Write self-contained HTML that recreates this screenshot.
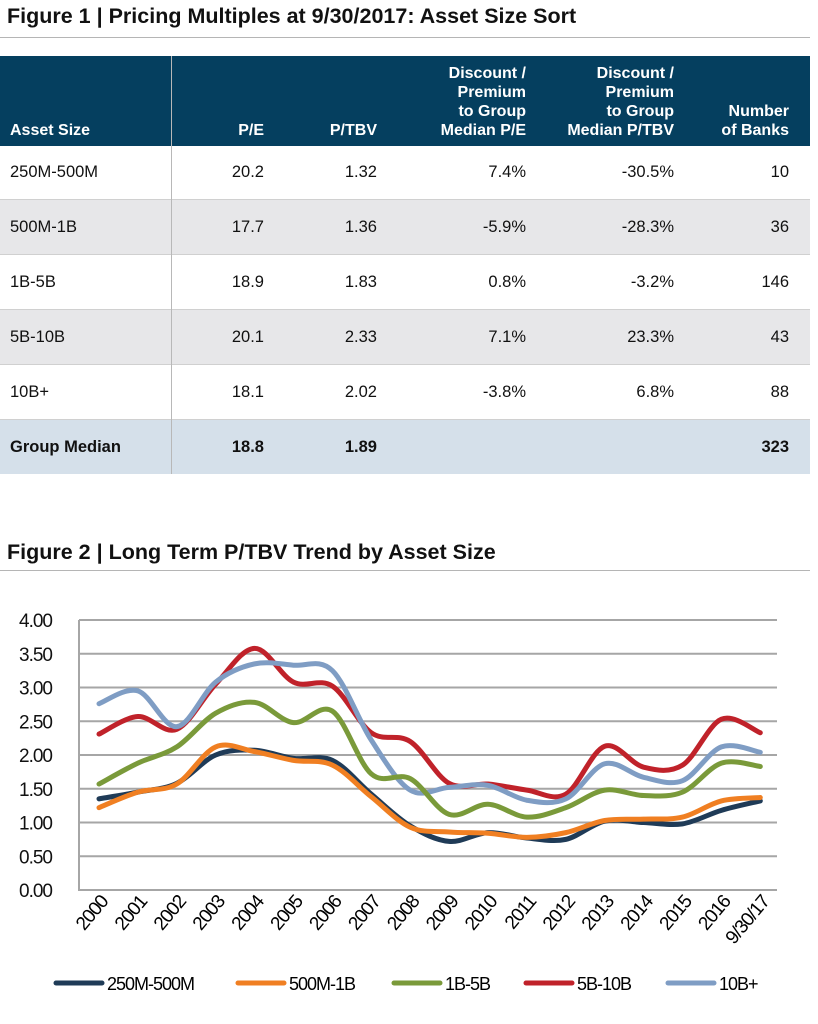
<!DOCTYPE html>
<html><head><meta charset="utf-8">
<style>
body{margin:0;width:818px;height:1024px;background:#fff;font-family:"Liberation Sans",Arial,sans-serif;position:relative;overflow:hidden;color:#111}
.t{position:absolute;left:7px;font-weight:bold;font-size:21.5px}
.hr{position:absolute;left:0;width:810px;height:1px;background:#b5b5b5}
.row{position:absolute;left:0;width:810px;height:55px}
.c{position:absolute;font-size:16.5px;text-align:right}
.h{position:absolute;font-size:16px;font-weight:bold;color:#fff;text-align:right;line-height:19px}
</style></head><body>
<div class="t" style="top:4px">Figure 1 | Pricing Multiples at 9/30/2017: Asset Size Sort</div>
<div class="hr" style="top:37px"></div>
<div class="row" style="top:56px;height:90px;background:#053f5f"></div>
<div class="h" style="left:10px;top:121px;text-align:left">Asset Size</div>
<div class="h" style="right:554px;top:121px">P/E</div>
<div class="h" style="right:441px;top:121px">P/TBV</div>
<div class="h" style="right:292px;top:64px">Discount /<br>Premium<br>to Group<br>Median P/E</div>
<div class="h" style="right:144px;top:64px">Discount /<br>Premium<br>to Group<br>Median P/TBV</div>
<div class="h" style="right:29px;top:102px">Number<br>of Banks</div>
<div class="row" style="top:200px;background:#e7e7e9"></div>
<div class="row" style="top:310px;background:#e7e7e9"></div>
<div class="row" style="top:419px;background:#d5e0ea"></div>
<div style="position:absolute;left:0;width:810px;top:199px;height:1px;background:#d0d0d0"></div>
<div style="position:absolute;left:0;width:810px;top:254px;height:1px;background:#d0d0d0"></div>
<div style="position:absolute;left:0;width:810px;top:309px;height:1px;background:#d0d0d0"></div>
<div style="position:absolute;left:0;width:810px;top:364px;height:1px;background:#d0d0d0"></div>
<div style="position:absolute;left:0;width:810px;top:419px;height:1px;background:#d0d0d0"></div>
<div style="position:absolute;left:171px;top:56px;width:1px;height:418px;background:#b8b8b8"></div>
<div id="tbl"></div>
<div class="t" style="top:540px">Figure 2 | Long Term P/TBV Trend by Asset Size</div>
<div class="hr" style="top:570px"></div>
<svg id="ch" width="818" height="1024" style="position:absolute;left:0;top:0" font-family="Liberation Sans, Arial, sans-serif"></svg>
<script>
var rows=[["250M-500M","20.2","1.32","7.4%","-30.5%","10"],["500M-1B","17.7","1.36","-5.9%","-28.3%","36"],["1B-5B","18.9","1.83","0.8%","-3.2%","146"],["5B-10B","20.1","2.33","7.1%","23.3%","43"],["10B+","18.1","2.02","-3.8%","6.8%","88"],["Group Median","18.8","1.89","","","323"]];
var rights=[0,554,441,292,144,29],h="";
rows.forEach(function(r,i){var y=163+i*55;var b=i==5?"font-weight:bold;":"";
h+='<div class="c" style="'+b+'left:10px;top:'+y+'px;text-align:left">'+r[0]+'</div>';
for(var j=1;j<6;j++)h+='<div class="c" style="'+b+'right:'+rights[j]+'px;top:'+y+'px">'+r[j]+'</div>';});
document.getElementById('tbl').innerHTML=h;
var s="",x0=79,x1=777,y0=890,k=67.5;
for(var i=0;i<=8;i++){var y=y0-i*k/2;s+='<line x1="'+x0+'" x2="'+x1+'" y1="'+y+'" y2="'+y+'" stroke="#a6a6a6" stroke-width="2"/>';
s+='<text x="52" y="'+(y+7)+'" font-size="19" text-anchor="end" fill="#111" letter-spacing="-1">'+(i/2).toFixed(2)+'</text>';}
s+='<line x1="'+x0+'" x2="'+x0+'" y1="620" y2="891" stroke="#a6a6a6" stroke-width="2"/>';
var lab=["2000","2001","2002","2003","2004","2005","2006","2007","2008","2009","2010","2011","2012","2013","2014","2015","2016","9/30/17"];
function X(i){return 99+i*38.9}
lab.forEach(function(l,i){var x=X(i)+10,y=902;s+='<text transform="translate('+x+','+y+') rotate(-50)" font-size="19" text-anchor="end" letter-spacing="-1">'+l+'</text>';});
var ser=[["#c0222a",[2.31,2.57,2.38,3.05,3.58,3.08,3.02,2.33,2.2,1.58,1.57,1.48,1.42,2.13,1.82,1.85,2.53,2.33]],
["#7f9dc4",[2.76,2.95,2.42,3.08,3.35,3.33,3.25,2.22,1.48,1.52,1.55,1.33,1.35,1.87,1.67,1.62,2.12,2.04]],
["#7a9a3a",[1.57,1.88,2.12,2.62,2.78,2.48,2.65,1.72,1.65,1.12,1.27,1.08,1.22,1.48,1.40,1.45,1.88,1.83]],
["#1f3b57",[1.35,1.45,1.58,2.0,2.07,1.95,1.92,1.42,0.95,0.72,0.85,0.77,0.75,1.02,1.0,0.98,1.18,1.32]],
["#f07f22",[1.22,1.45,1.57,2.12,2.05,1.92,1.85,1.38,0.93,0.86,0.84,0.78,0.85,1.03,1.05,1.08,1.32,1.37]]];
ser.forEach(function(se){var v=se[1],p=v.map(function(a,i){return [X(i),y0-a*k]});
var d="M"+p[0][0]+","+p[0][1];
for(var i=0;i<p.length-1;i++){var a=p[Math.max(i-1,0)],b=p[i],c=p[i+1],e=p[Math.min(i+2,p.length-1)];
d+=" C"+(b[0]+(c[0]-a[0])/6)+","+(b[1]+(c[1]-a[1])/6)+" "+(c[0]-(e[0]-b[0])/6)+","+(c[1]-(e[1]-b[1])/6)+" "+c[0]+","+c[1];}
s+='<path d="'+d+'" fill="none" stroke="'+se[0]+'" stroke-width="5" stroke-linecap="round"/>';});
var leg=[["#1f3b57","250M-500M",56],["#f07f22","500M-1B",238],["#7a9a3a","1B-5B",394],["#c0222a","5B-10B",526],["#7f9dc4","10B+",668]];
leg.forEach(function(l){s+='<line x1="'+l[2]+'" x2="'+(l[2]+46)+'" y1="983" y2="983" stroke="'+l[0]+'" stroke-width="5" stroke-linecap="round"/>';
s+='<text x="'+(l[2]+51)+'" y="990" font-size="18" letter-spacing="-1">'+l[1]+'</text>';});
document.getElementById('ch').innerHTML=s;
</script>
</body></html>
